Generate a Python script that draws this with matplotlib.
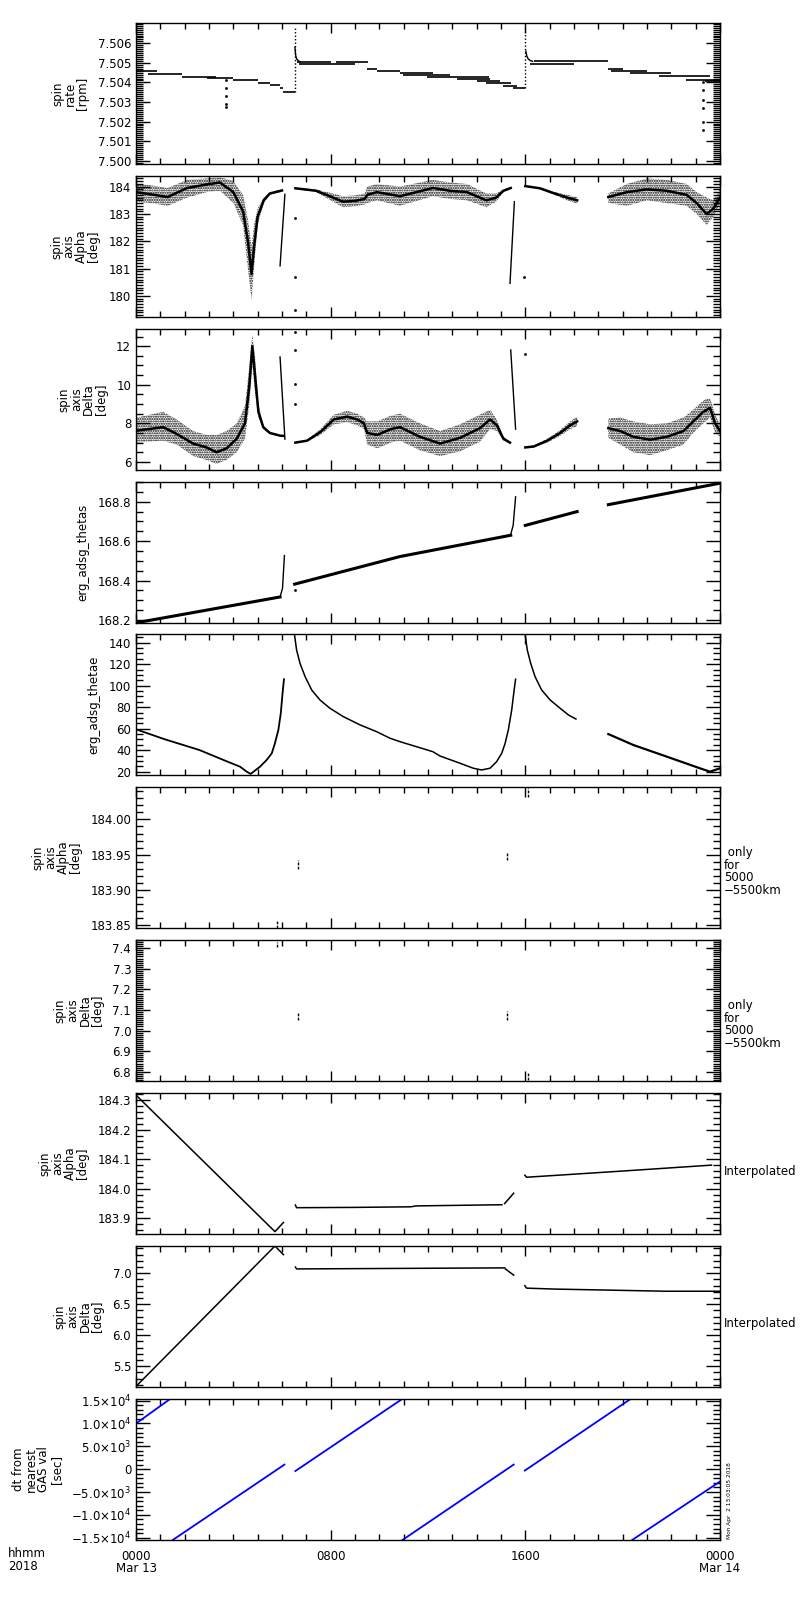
import numpy as np
import matplotlib
matplotlib.use('Agg')
import matplotlib.pyplot as plt
from matplotlib.ticker import FixedLocator, MultipleLocator, FuncFormatter

plt.rcParams['font.family'] = ['DejaVu Sans']
plt.rcParams['font.size'] = 8.5
plt.rcParams['mathtext.default'] = 'regular'
plt.rcParams['hatch.linewidth'] = 1.0
plt.rcParams['axes.linewidth'] = 1.0

# ---------------- panel 1 : spin rate [rpm] (step levels, hours of Mar 13)
rate_t0 = [0.0, 0.5, 1.9, 2.9, 4.0, 5.0, 5.5, 5.9, 6.05,
           6.7, 6.6, 8.2, 9.5, 9.9,
           10.85, 10.98, 11.94, 13.18, 14.0, 14.4, 15.1, 15.51,
           16.2, 16.35, 19.4, 19.5, 20.3, 21.5, 22.6, 23.4]
rate_t1 = [0.85, 1.9, 3.3, 4.0, 5.0, 5.5, 5.9, 6.05, 6.52,
           9.0, 8.0, 9.55, 9.9, 10.85,
           12.2, 12.9, 14.5, 14.55, 14.96, 15.4, 15.65, 16.0,
           17.98, 19.41, 20.0, 21.0, 22.0, 23.6, 24.0, 24.0]
rate_val = [7.50458, 7.50443, 7.50430, 7.50422, 7.50413, 7.50398, 7.50385, 7.50370, 7.50350,
            7.50494, 7.50506, 7.50506, 7.50470, 7.50458,
            7.50447, 7.50438, 7.50427, 7.50418, 7.50408, 7.50397, 7.50383, 7.50371,
            7.50494, 7.50508, 7.50470, 7.50460, 7.50447, 7.50432, 7.50415, 7.50406]
rate_spike_t = [6.52, 16.0]
rate_spike_lo = [7.50350, 7.50371]
rate_spike_hi = [7.50685, 7.50687]
rate_decay1_t = [6.53, 6.56, 6.60, 6.68, 6.75]
rate_decay1_v = [7.50580, 7.50540, 7.50520, 7.50510, 7.50506]
rate_decay2_t = [16.02, 16.06, 16.12, 16.20, 16.30]
rate_decay2_v = [7.50560, 7.50535, 7.50520, 7.50512, 7.50508]
rate_drop_t = [3.69, 3.69, 3.69, 3.69, 3.69, 23.3, 23.3, 23.3, 23.3, 23.3, 23.3]
rate_drop_v = [7.5041, 7.5037, 7.5033, 7.5029, 7.50273,
               7.5040, 7.5036, 7.5031, 7.5027, 7.5020, 7.50158]

# ---------------- panel 2 : spin axis Alpha [deg] (noisy bands)
alpha_a_t = [0.0, 0.6, 1.3, 2.1, 2.9, 3.45, 4.0, 4.4, 4.6, 4.75, 4.85, 5.0, 5.25, 5.5, 6.0]
alpha_a_mid = [183.80, 183.72, 183.62, 183.95, 184.08, 184.15, 183.80, 183.10, 182.00,
               180.80, 181.80, 182.90, 183.50, 183.75, 183.86]
alpha_a_lo = [183.45, 183.40, 183.30, 183.60, 183.80, 183.85, 183.40, 182.60, 181.00,
              179.85, 181.00, 182.60, 183.40, 183.70, 183.82]
alpha_a_hi = [184.10, 184.05, 183.95, 184.25, 184.30, 184.35, 184.20, 183.70, 182.80,
              181.80, 182.60, 183.20, 183.60, 183.80, 183.90]
alpha_b_t = [6.55, 7.4, 8.1, 8.5, 9.0, 9.4, 9.5, 9.9, 10.85, 12.2, 12.9, 13.6, 14.4, 14.8, 15.1, 15.4]
alpha_b_mid = [183.94, 183.85, 183.60, 183.45, 183.48, 183.55, 183.70, 183.80, 183.65,
               183.95, 183.85, 183.80, 183.50, 183.60, 183.85, 183.95]
alpha_b_spread = [0.02, 0.05, 0.15, 0.20, 0.20, 0.20, 0.30, 0.30, 0.35,
                  0.30, 0.30, 0.30, 0.25, 0.15, 0.05, 0.03]
alpha_c_t = [16.0, 16.6, 17.17, 17.72, 18.13]
alpha_c_mid = [184.02, 183.94, 183.76, 183.60, 183.50]
alpha_c_spread = [0.02, 0.03, 0.05, 0.10, 0.12]
alpha_d_t = [19.41, 20.17, 20.99, 21.81, 22.63, 23.04, 23.45, 23.73, 24.0]
alpha_d_mid = [183.62, 183.80, 183.90, 183.85, 183.70, 183.40, 183.00, 183.20, 183.60]
alpha_d_lo = [183.40, 183.30, 183.50, 183.40, 183.30, 183.00, 182.60, 182.90, 183.40]
alpha_d_hi = [183.75, 184.10, 184.30, 184.25, 184.10, 183.80, 183.60, 183.50, 183.90]
alpha_jump_t = [[5.92, 6.12], [15.37, 15.55]]
alpha_jump_v = [[181.10, 183.72], [180.46, 183.45]]
alpha_dot_t = [6.52, 6.52, 6.52, 15.95]
alpha_dot_v = [182.84, 180.70, 179.50, 180.70]

# ---------------- panel 3 : spin axis Delta [deg]
delta_a_t = [0.03, 1.12, 1.67, 2.35, 2.9, 3.31, 3.72, 4.14, 4.48, 4.66, 4.78, 4.89, 5.03, 5.23, 5.5, 5.92, 6.05]
delta_a_mid = [7.62, 7.80, 7.45, 6.95, 6.75, 6.50, 6.70, 7.20, 8.00, 10.0, 12.0, 10.5, 8.6, 7.8, 7.5, 7.36, 7.35]
delta_a_lo = [7.0, 7.1, 6.9, 6.3, 6.1, 5.9, 6.1, 6.5, 7.2, 9.0, 11.0, 9.6, 8.3, 7.7, 7.45, 7.33, 7.32]
delta_a_hi = [8.3, 8.6, 8.2, 7.6, 7.4, 7.4, 7.6, 8.0, 8.9, 11.0, 12.6, 11.5, 9.0, 7.9, 7.55, 7.39, 7.38]
delta_b_t = [6.55, 7.03, 7.58, 8.13, 8.68, 9.09, 9.37, 9.5, 9.92, 10.47, 10.85,
             11.67, 12.5, 13.32, 14.14, 14.55, 14.83, 15.1, 15.37]
delta_b_mid = [7.0, 7.1, 7.55, 8.2, 8.35, 8.2, 8.0, 7.5, 7.4, 7.7, 7.8,
               7.3, 6.95, 7.25, 7.75, 8.2, 7.9, 7.2, 7.0]
delta_b_spread = [0.03, 0.05, 0.15, 0.25, 0.3, 0.3, 0.3, 0.6, 0.7, 0.7, 0.7,
                  0.7, 0.65, 0.7, 0.7, 0.5, 0.3, 0.1, 0.05]
delta_c_t = [16.0, 16.35, 16.9, 17.43, 17.84, 18.13]
delta_c_mid = [6.75, 6.80, 7.10, 7.50, 7.90, 8.10]
delta_c_spread = [0.03, 0.05, 0.10, 0.15, 0.20, 0.25]
delta_d_t = [19.41, 19.9, 20.44, 21.13, 21.81, 22.5, 22.9, 23.32, 23.59, 23.8, 24.0]
delta_d_mid = [7.75, 7.6, 7.3, 7.15, 7.3, 7.6, 8.1, 8.6, 8.8, 8.0, 7.6]
delta_d_spread = [0.5, 0.7, 0.8, 0.8, 0.7, 0.7, 0.6, 0.6, 0.5, 0.5, 0.3]
delta_jump_t = [[5.92, 6.12], [15.4, 15.6]]
delta_jump_v = [[11.44, 7.18], [11.8, 7.7]]
delta_dot_t = [6.52, 6.52, 6.52, 6.52, 16.0]
delta_dot_v = [12.75, 11.8, 10.05, 9.0, 11.6]

# ---------------- panel 4 : erg_adsg_thetas
thetas_seg_t = [[0.0, 5.92], [6.52, 10.85, 15.4], [16.0, 18.13], [19.41, 24.0]]
thetas_seg_v = [[168.186, 168.317], [168.382, 168.522, 168.630], [168.680, 168.750], [168.785, 168.894]]
thetas_rise_t = [[5.92, 6.02, 6.10], [15.40, 15.50, 15.60]]
thetas_rise_v = [[168.317, 168.360, 168.527], [168.635, 168.680, 168.825]]
thetas_dot_t = [6.52]
thetas_dot_v = [168.35]

# ---------------- panel 5 : erg_adsg_thetae
thetae_a_t = [0.0, 1.2, 2.6, 3.86, 4.27, 4.55, 4.71, 5.10, 5.37, 5.58, 5.71, 5.85, 5.95, 6.01, 6.08]
thetae_a_v = [59.4, 50.0, 40.2, 28.4, 24.7, 20.0, 17.9, 24.7, 30.9, 37.1, 46.4, 58.8, 74.3, 89.8, 106.0]
thetae_b_t = [6.51, 6.6, 6.74, 6.95, 7.22, 7.56, 7.97, 8.52, 9.21, 9.89, 10.44, 10.85, 12.2,
              12.49, 13.32, 13.86, 14.2, 14.55, 14.82, 15.03, 15.17, 15.3, 15.44, 15.54, 15.6]
thetae_b_v = [148.0, 133.2, 120.8, 108.4, 96.0, 86.7, 79.0, 71.2, 63.5, 57.2, 51.1, 47.9, 38.6,
              34.6, 27.8, 23.2, 21.6, 23.2, 29.3, 37.1, 46.4, 58.8, 77.4, 96.0, 106.0]
thetae_c_t = [15.99, 16.08, 16.22, 16.4, 16.67, 17.02, 17.43, 17.77, 18.08]
thetae_c_v = [148.0, 133.2, 120.8, 108.4, 96.0, 86.7, 79.0, 72.8, 69.0]
thetae_d_t = [19.41, 20.44, 21.81, 23.18, 23.59, 24.0]
thetae_d_v = [55.0, 44.8, 34.0, 23.1, 20.0, 23.1]

# ---------------- panel 6/7 : only for 5000-5500km
alt_t = [5.78, 6.67, 15.23, 16.13]
alt_alpha_lo = [183.846, 183.930, 183.942, 184.032]
alt_alpha_hi = [183.857, 183.943, 183.954, 184.044]
alt_delta_lo = [7.408, 7.050, 7.050, 6.760]
alt_delta_hi = [7.432, 7.090, 7.095, 6.800]

# ---------------- panel 8/9 : interpolated
interp_alpha_t = [[0.0, 5.71, 6.06], [6.55, 6.6, 9.0, 11.3, 11.5, 15.04], [15.15, 15.52], [15.98, 16.05, 20.0, 23.65]]
interp_alpha_v = [[184.317, 183.855, 183.886], [183.945, 183.936, 183.937, 183.939, 183.942, 183.946],
                  [183.950, 183.985], [184.046, 184.039, 184.060, 184.080]]
interp_delta_t = [[0.0, 5.71, 6.06], [6.55, 6.6, 15.15], [15.18, 15.52], [15.98, 16.05, 17.2, 19.2, 21.8, 24.0]]
interp_delta_v = [[5.175, 7.44, 7.30], [7.10, 7.07, 7.087], [7.07, 6.97], [6.80, 6.76, 6.745, 6.73, 6.71, 6.71]]

# ---------------- panel 10 : dt from nearest GAS val [sec]
dt_t0 = [0.0, 1.51, 6.55, 10.95, 15.98, 20.39]
dt_t1 = [1.40, 6.10, 10.95, 15.52, 20.39, 24.0]
dt_v0 = [1.0e4, -1.55e4, -400.0, -1.55e4, -300.0, -1.55e4]
dt_v1 = [1.536e4, 1000.0, 1.54e4, 1000.0, 1.56e4, -2700.0]

xtick_pos = [0, 8, 16, 24]
xtick_lab = ['0000\nMar 13', '0800', '1600', '0000\nMar 14']


def dt_label(v, pos):
    if v == 0:
        return '0'
    e = int(np.floor(np.log10(abs(v))))
    m = v / 10 ** e
    s = '-' if m < 0 else ''
    return r'$%s%.1f{\times}10^{%d}$' % (s, abs(m), e)


fig = plt.figure(figsize=(8, 16), dpi=100)
W, H = 800.0, 1600.0
tops = [23, 176, 329, 482, 634, 787, 940, 1093, 1246, 1399]
axes = []
for top in tops:
    ax = fig.add_axes([136 / W, 1 - (top + 141) / H, 584 / W, 141 / H])
    ax.set_xlim(0, 24)
    ax.xaxis.set_major_locator(FixedLocator(xtick_pos))
    ax.xaxis.set_minor_locator(MultipleLocator(1))
    ax.tick_params(which='both', direction='in', top=True, right=True, width=1)
    ax.tick_params(axis='y', which='major', length=10)
    ax.tick_params(axis='y', which='minor', length=5)
    ax.tick_params(axis='x', which='major', length=7)
    ax.tick_params(axis='x', which='minor', length=4)
    ax.tick_params(axis='x', labelbottom=False)
    axes.append(ax)


def yaxis(ax, lim, ticks, minor, fmt, label):
    ax.set_ylim(*lim)
    ax.yaxis.set_major_locator(FixedLocator(ticks))
    ax.yaxis.set_minor_locator(MultipleLocator(minor))
    if isinstance(fmt, str):
        ax.yaxis.set_major_formatter(FuncFormatter(lambda v, p: fmt % v))
    else:
        ax.yaxis.set_major_formatter(FuncFormatter(fmt))
    ax.set_ylabel(label, linespacing=0.95, labelpad=6)


def band(ax, t, mid, lo, hi):
    # scatter cloud drawn as a stippled band plus its dense core
    ax.fill_between(t, lo, hi, facecolor='none', edgecolor='k', hatch='.......', linewidth=0)
    ax.plot(t, mid, color='k', lw=1.8)


# panel 1
ax = axes[0]
ax.hlines(rate_val, rate_t0, rate_t1, color='k', lw=1.2)
ax.vlines(rate_spike_t, rate_spike_lo, rate_spike_hi, color='k', lw=1, linestyles=(0, (1, 1.5)))
ax.plot(rate_decay1_t, rate_decay1_v, 'k', lw=1)
ax.plot(rate_decay2_t, rate_decay2_v, 'k', lw=1)
ax.plot(rate_drop_t, rate_drop_v, 'ks', ms=0.9)
yaxis(ax, (7.49983, 7.50704), [7.500, 7.501, 7.502, 7.503, 7.504, 7.505, 7.506], 0.0001, '%.3f',
      'spin\nrate\n[rpm]')

# panel 2
ax = axes[1]
band(ax, alpha_a_t, alpha_a_mid, alpha_a_lo, alpha_a_hi)
for t, m, s in [(alpha_b_t, alpha_b_mid, alpha_b_spread), (alpha_c_t, alpha_c_mid, alpha_c_spread)]:
    band(ax, t, m, np.subtract(m, s), np.add(m, s))
band(ax, alpha_d_t, alpha_d_mid, alpha_d_lo, alpha_d_hi)
for t, v in zip(alpha_jump_t, alpha_jump_v):
    ax.plot(t, v, 'k', lw=1)
ax.plot(alpha_dot_t, alpha_dot_v, 'ks', ms=0.9)
yaxis(ax, (179.23, 184.39), [180, 181, 182, 183, 184], 0.1, '%d', 'spin\naxis\nAlpha\n[deg]')

# panel 3
ax = axes[2]
band(ax, delta_a_t, delta_a_mid, delta_a_lo, delta_a_hi)
for t, m, s in [(delta_b_t, delta_b_mid, delta_b_spread), (delta_c_t, delta_c_mid, delta_c_spread),
                (delta_d_t, delta_d_mid, delta_d_spread)]:
    band(ax, t, m, np.subtract(m, s), np.add(m, s))
for t, v in zip(delta_jump_t, delta_jump_v):
    ax.plot(t, v, 'k', lw=1)
ax.plot(delta_dot_t, delta_dot_v, 'ks', ms=0.9)
yaxis(ax, (5.58, 12.89), [6, 8, 10, 12], 0.5, '%d', 'spin\naxis\nDelta\n[deg]')

# panel 4
ax = axes[3]
for t, v in zip(thetas_seg_t, thetas_seg_v):
    ax.plot(t, v, 'k', lw=2.2)
for t, v in zip(thetas_rise_t, thetas_rise_v):
    ax.plot(t, v, 'k', lw=1)
ax.plot(thetas_dot_t, thetas_dot_v, 'ks', ms=0.9)
yaxis(ax, (168.185, 168.90), [168.2, 168.4, 168.6, 168.8], 0.05, '%.1f', 'erg_adsg_thetas')

# panel 5
ax = axes[4]
ax.plot(thetae_a_t, thetae_a_v, 'k', lw=1.3)
ax.plot(thetae_b_t, thetae_b_v, 'k', lw=1.1)
ax.plot(thetae_c_t, thetae_c_v, 'k', lw=1.1)
ax.plot(thetae_d_t, thetae_d_v, 'k', lw=1.6)
yaxis(ax, (16.9, 148.1), [20, 40, 60, 80, 100, 120, 140], 5, '%d', 'erg_adsg_thetae')

# panel 6
ax = axes[5]
ax.vlines(alt_t, alt_alpha_lo, alt_alpha_hi, color='k', lw=1, linestyles=(0, (2, 1)))
yaxis(ax, (183.846, 184.046), [183.85, 183.90, 183.95, 184.00], 0.01, '%.2f', 'spin\naxis\nAlpha\n[deg]')
ax.text(1.007, 0.40, ' only\nfor\n5000\n\u22125500km', transform=ax.transAxes, ha='left', va='center',
        linespacing=0.95)

# panel 7
ax = axes[6]
ax.vlines(alt_t, alt_delta_lo, alt_delta_hi, color='k', lw=1, linestyles=(0, (2, 1)))
yaxis(ax, (6.755, 7.44), [6.8, 6.9, 7.0, 7.1, 7.2, 7.3, 7.4], 0.01, '%.1f', 'spin\naxis\nDelta\n[deg]')
ax.text(1.007, 0.40, ' only\nfor\n5000\n\u22125500km', transform=ax.transAxes, ha='left', va='center',
        linespacing=0.95)

# panel 8
ax = axes[7]
for t, v in zip(interp_alpha_t, interp_alpha_v):
    ax.plot(t, v, 'k', lw=1.1)
yaxis(ax, (183.847, 184.324), [183.9, 184.0, 184.1, 184.2, 184.3], 0.02, '%.1f', 'spin\naxis\nAlpha\n[deg]')
ax.text(1.007, 0.44, 'Interpolated', transform=ax.transAxes, ha='left', va='center')

# panel 9
ax = axes[8]
for t, v in zip(interp_delta_t, interp_delta_v):
    ax.plot(t, v, 'k', lw=1.1)
yaxis(ax, (5.165, 7.44), [5.5, 6.0, 6.5, 7.0], 0.1, '%.1f', 'spin\naxis\nDelta\n[deg]')
ax.text(1.007, 0.447, 'Interpolated', transform=ax.transAxes, ha='left', va='center')

# panel 10
ax = axes[9]
for a, b, c, d in zip(dt_t0, dt_t1, dt_v0, dt_v1):
    ax.plot([a, b], [c, d], color='#0000ff', lw=1.3)
yaxis(ax, (-1.55e4, 1.536e4), [-1.5e4, -1.0e4, -5e3, 0, 5e3, 1.0e4, 1.5e4], 1000, dt_label,
      'dt from\nnearest\nGAS val\n[sec]')
ax.tick_params(axis='x', labelbottom=True, pad=7)
ax.set_xticklabels(xtick_lab, linespacing=0.95)
ax.text(1.012, 0.01, 'Mon Apr  2 13:03:05 2018', transform=ax.transAxes, rotation=90,
        ha='left', va='bottom', fontsize=4.2)

fig.text(8 / W, 1 - 1547 / H, 'hhmm\n2018', ha='left', va='top', linespacing=0.95)

fig.savefig('out.png', dpi=100)
